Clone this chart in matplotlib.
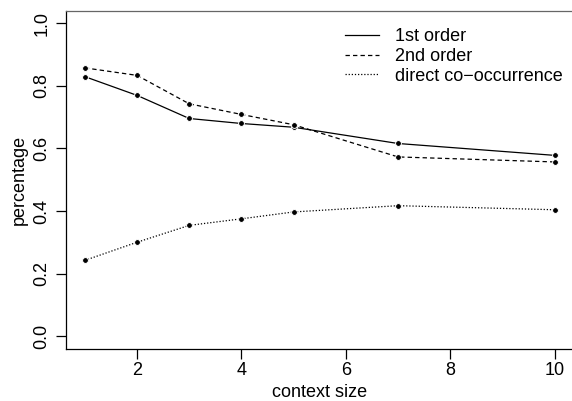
import matplotlib.pyplot as plt

plt.rcParams['font.family'] = ['Liberation Sans', 'DejaVu Sans']

context_size = [1, 2, 3, 4, 5, 7, 10]
first_order = [0.830, 0.770, 0.696, 0.680, 0.668, 0.616, 0.578]
second_order = [0.858, 0.834, 0.743, 0.709, 0.676, 0.573, 0.557]
direct_cooc = [0.242, 0.300, 0.354, 0.375, 0.397, 0.417, 0.404]

fig = plt.figure(figsize=(5.72, 4.01), dpi=100)
ax = fig.add_axes([0.1154, 0.1309, 0.8872, 0.8417])

ax.plot(context_size, first_order, color='black', lw=0.9, ls='-', label='1st order')
ax.plot(context_size, second_order, color='black', lw=0.9, ls=(0, (3.5, 2.5)), label='2nd order')
ax.plot(context_size, direct_cooc, color='black', lw=0.9, ls=(0, (1, 1.5)), label='direct co\u2212occurrence')
for s in [first_order, second_order, direct_cooc]:
    ax.plot(context_size, s, 'o', color='black', ms=4.2, mec='white', mew=0.7, ls='none')

ax.set_xlim(0.64, 10.36)
ax.set_ylim(-0.04, 1.04)
ax.set_xticks([2, 4, 6, 8, 10])
ax.set_yticks([0.0, 0.2, 0.4, 0.6, 0.8, 1.0])
ax.set_yticklabels(['0.0', '0.2', '0.4', '0.6', '0.8', '1.0'], rotation=90, va='center')
ax.tick_params(direction='out', length=7, width=0.9, labelsize=13)
ax.tick_params(axis='x', pad=3)
ax.tick_params(axis='y', pad=4)
for sp in ax.spines.values():
    sp.set_linewidth(0.9)
ax.spines['top'].set_color('#666666')
ax.spines['right'].set_visible(False)

ax.set_xlabel('context size', fontsize=13, labelpad=3)
ax.set_ylabel('percentage', fontsize=13, labelpad=4.5)

ax.legend(loc='upper left', bbox_to_anchor=(345 / 572, 1 - 28 / 401), bbox_transform=fig.transFigure,
          frameon=False, fontsize=13, borderpad=0, borderaxespad=0,
          handlelength=1.9, handletextpad=0.85, labelspacing=0.16)

fig.savefig('out.png', dpi=100)
